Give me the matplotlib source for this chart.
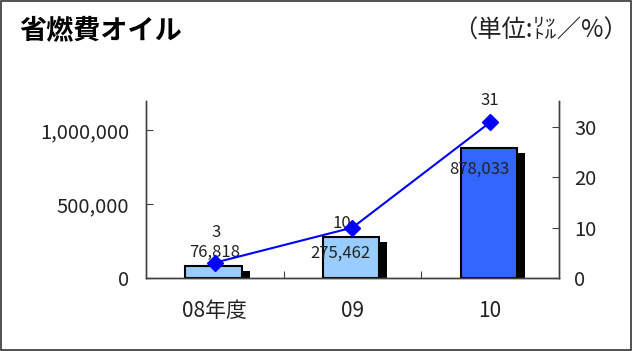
import numpy as np
import matplotlib
matplotlib.use('Agg')
import matplotlib.pyplot as plt
from matplotlib.patches import Rectangle
from matplotlib.ticker import FuncFormatter

plt.rcParams['font.family'] = ['Noto Sans CJK JP', 'DejaVu Sans']

# データ
years = ['08年度', '09', '10']
volume = [76818, 275462, 878033]      # 販売量（リットル）
share = [3, 10, 31]                   # 構成比（%）
bar_colors = ['#99CCFF', '#99CCFF', '#3366FF']

# ラベル位置の微調整（ポイント）
vol_offsets = [(0, 10), (-9, -11.5), (-8, -15)]
share_offsets = [(1, 21.5), (-7.5, 3), (0, 15.5)]

fig = plt.figure(figsize=(6.32, 3.51), dpi=100)
ax = fig.add_axes([0.231, 0.2088, 0.6535, 0.5035])
ax2 = ax.twinx()

x = np.arange(len(years))
w = 0.41
px = 1.0 / 137.7  # 1ピクセルあたりのx軸単位

# 影
ax.bar(x - 0.01 + 8 * px, volume, width=w, bottom=-30000,
       color='black', edgecolor='none', zorder=1)
# 棒
ax.bar(x - 0.01, volume, width=w, color=bar_colors,
       edgecolor='black', linewidth=1.5, zorder=2)

ax.set_xlim(-0.5, 2.5)
ax.set_ylim(0, 1200000)
ax.set_yticks([0, 500000, 1000000])
ax.yaxis.set_major_formatter(FuncFormatter(lambda v, p: f'{int(v):,}'))
ax.set_xticks([0.5, 1.5], minor=False)
ax.set_xticks(x, minor=True)
ax.set_xticklabels(years, minor=True)
ax.set_xticklabels([])
ax.tick_params(axis='x', which='major', direction='in', length=5, color='#404040')
ax.tick_params(axis='x', which='minor', length=0, pad=16, labelsize=15, labelcolor='#222222')
ax.tick_params(axis='y', direction='in', length=5, pad=12, labelsize=14.5,
               labelcolor='#222222', color='#404040')

for i, v in enumerate(volume):
    ax.annotate(f'{v:,}', (x[i], v), xytext=vol_offsets[i], textcoords='offset points',
                ha='center', va='center', fontsize=12, color='#222222', zorder=5)

# 構成比（折れ線）
ax2.plot(x, share, color='#0000FF', linewidth=1.5, marker='D', markersize=8, zorder=4)
ax2.set_ylim(0, 35.25)
ax2.set_yticks([0, 10, 20, 30])
ax2.tick_params(axis='y', direction='in', length=5, pad=11, labelsize=14.5,
                labelcolor='#222222', color='#404040')
for i, s in enumerate(share):
    ax2.annotate(f'{s}', (x[i], s), xytext=share_offsets[i], textcoords='offset points',
                 ha='center', va='center', fontsize=12, color='#222222')

for a in (ax, ax2):
    a.spines['top'].set_visible(False)
    for s in ('left', 'right', 'bottom'):
        a.spines[s].set_color('#404040')
        a.spines[s].set_linewidth(1.0)
ax2.patch.set_visible(False)

fig.text(0.031, 0.912, '省燃費オイル', fontsize=19.5, fontweight='bold', ha='left', va='center')
fig.text(0.994, 0.912, '（単位:㍑／%）', fontsize=17.5, ha='right', va='center', color='#222222')

# 外枠
fig.add_artist(Rectangle((0.001, 0.002), 0.997, 0.995, transform=fig.transFigure,
                         fill=False, edgecolor='#333333', linewidth=1.2))

fig.savefig('out.png', dpi=100)
